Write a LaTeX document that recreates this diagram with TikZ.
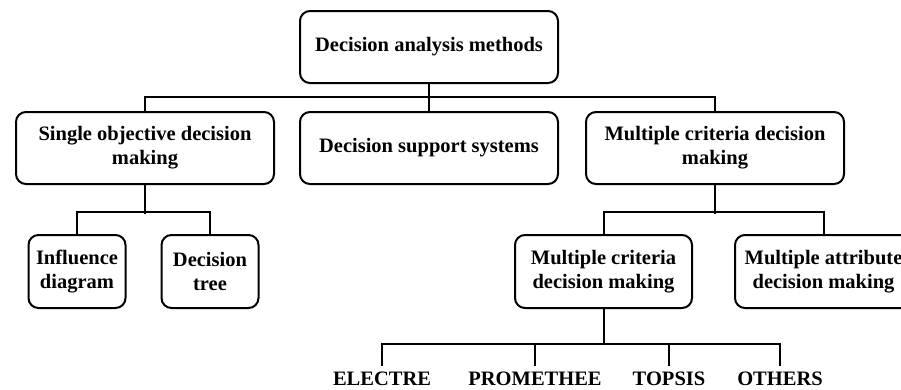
\documentclass[tikz,border=0pt]{standalone}
\usepackage{fontspec}
\setmainfont{Liberation Serif}
\begin{document}
\begin{tikzpicture}[x=1pt,y=-1pt,
  box/.style={draw,line width=2pt,rounded corners=10pt,align=center,inner sep=0pt,
    font=\fontsize{20.5}{24}\selectfont\bfseries},
  bigbox/.style={box,minimum width=258pt,minimum height=72pt},
  smallbox/.style={box,minimum width=97pt,minimum height=73pt},
  midbox/.style={box,minimum width=177pt,minimum height=73pt},
  leaf/.style={inner sep=0.5pt,outer ysep=6pt,font=\fontsize{20.5}{24}\selectfont\bfseries},
  conn/.style={line width=2pt}]
\useasboundingbox (0,0) rectangle (901,389);
\begin{scope}
\clip (0,0) rectangle (901,389);
\node[bigbox] (top) at (429,47) {Decision analysis methods};
\node[bigbox] (lft) at (145,148) {Single objective decision\\making};
\node[bigbox] (mid) at (429,148) {Decision support systems};
\node[bigbox] (rgt) at (715,148) {Multiple criteria decision\\making};
\node[smallbox] (infl) at (77,271.5) {Influence\\diagram};
\node[smallbox] (tree) at (210,271.5) {Decision\\tree};
\node[midbox] (mcdm) at (603.5,271.5) {Multiple criteria\\decision making};
\node[midbox] (madm) at (823.5,271.5) {Multiple attribute\\decision making};
\node[leaf] (el) at (382,379) {ELECTRE};
\node[leaf] (pr) at (535,379) {PROMETHEE};
\node[leaf] (tp) at (669,379) {TOPSIS};
\node[leaf] (ot) at (780,379) {OTHERS};

\draw[conn] (top.south) -- (mid.north);
\draw[conn] (lft.north) -- ++(0,-14) -| (rgt.north);
\draw[conn] (lft.south) -- ++(0,29) coordinate (lj);
\draw[conn] (infl.north) -- ++(0,-22) -| (tree.north);
\draw[conn] (rgt.south) -- ++(0,29) coordinate (rj);
\draw[conn] (mcdm.north) -- ++(0,-22) -| (madm.north);
\draw[conn] (mcdm.south) -- ++(0,35) coordinate (mj);
\draw[conn] (el.north) -- ++(0,-22) -| (ot.north);
\draw[conn] (pr.north) -- ++(0,-22);
\draw[conn] (tp.north) -- ++(0,-22);
\end{scope}
\end{tikzpicture}
\end{document}
